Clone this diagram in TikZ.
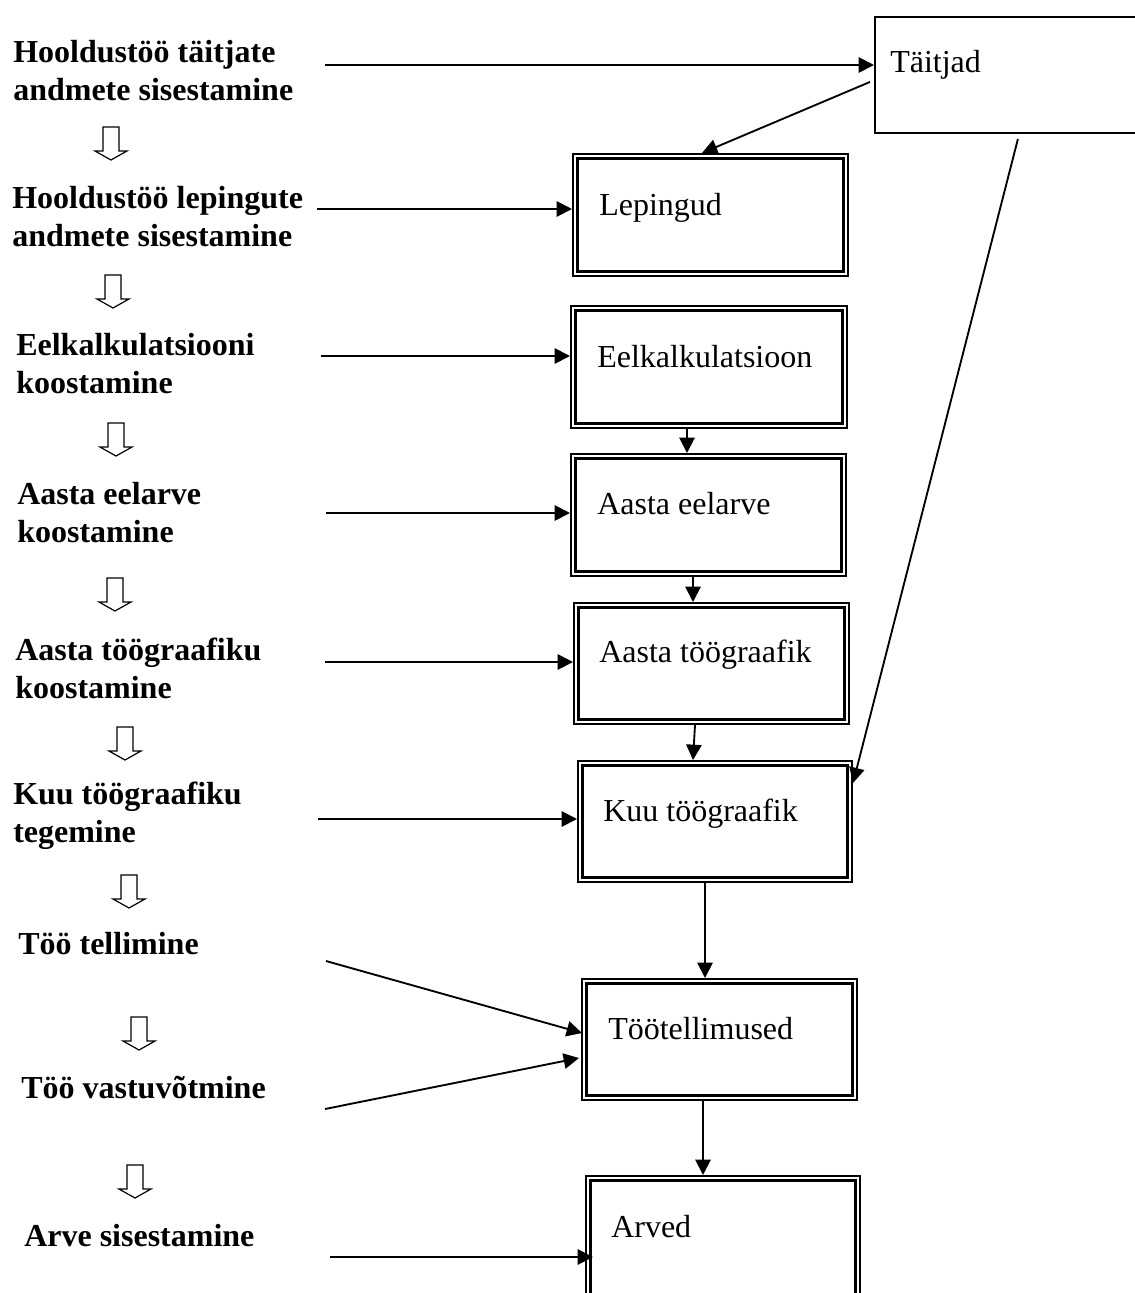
\documentclass[tikz,border=0pt]{standalone}
\usepackage{fontspec}
\setmainfont{Liberation Serif}
\usetikzlibrary{arrows.meta,calc}
\tikzset{
  obox/.style={draw, line width=1.5pt, inner sep=0pt, outer sep=0.75pt, anchor=north west},
  ibox/.style={line width=2.25pt},
  sbox/.style={draw, line width=1.4pt, inner sep=0pt, outer sep=0.7pt, anchor=north west},
  lbl/.style={font=\fontsize{24pt}{28.5pt}\selectfont\bfseries, align=left, anchor=base west, inner sep=0pt},
  btxt/.style={font=\fontsize{24pt}{28.5pt}\selectfont, anchor=base west, inner sep=0pt},
  arr/.style={line width=1.4pt, -{Triangle[length=11.5pt, width=11.5pt]}},
  darrow/.style={line width=0.9pt, line join=miter}
}
\begin{document}
\begin{tikzpicture}[x=0.75pt, y=-0.75pt]
\useasboundingbox (0,0) rectangle (1135,1293);

% boxes
\node[sbox, minimum width=199.5pt, minimum height=87pt] (ta) at (874,16) {};
\node[obox, minimum width=206.25pt, minimum height=91.5pt] (lep) at (572,153) {};
\node[obox, minimum width=207pt, minimum height=91.5pt] (ek) at (570,305) {};
\node[obox, minimum width=206.25pt, minimum height=91.5pt] (ae) at (570,453) {};
\node[obox, minimum width=206.25pt, minimum height=90.75pt] (at) at (573,602) {};
\node[obox, minimum width=205.5pt, minimum height=90.75pt] (kuu) at (577,760) {};
\node[obox, minimum width=206.25pt, minimum height=90.75pt] (tt) at (581,978) {};
\node[obox, minimum width=205.5pt, minimum height=97.5pt] (ar) at (585,1175) {};
\foreach \n in {lep,ek,ae,at,kuu,tt,ar}{
  \draw[ibox] ([shift={(5.5,5.5)}]\n.north west) rectangle ([shift={(-5.5,-5.5)}]\n.south east);
}

% box texts
\node[btxt] (taT) at (890,72) {Täitjad};
\node[btxt] (lepT) at (599,215) {Lepingud};
\node[btxt] (ekT) at (597,367) {Eelkalkulatsioon};
\node[btxt] (aeT) at (597,514) {Aasta eelarve};
\node[btxt] (atT) at (599,662) {Aasta töögraafik};
\node[btxt] (kuuT) at (603,821) {Kuu töögraafik};
\node[btxt] (ttT) at (608,1039) {Töötellimused};
\node[btxt] (arT) at (611,1237) {Arved};

% left labels (anchor = baseline of the last line)
\node[lbl] (l1) at (13,100) {Hooldustöö täitjate\\andmete sisestamine};
\node[lbl] (l2) at (12,246) {Hooldustöö lepingute\\andmete sisestamine};
\node[lbl] (l3) at (16,393) {Eelkalkulatsiooni\\koostamine};
\node[lbl] (l4) at (17,542) {Aasta eelarve\\koostamine};
\node[lbl] (l5) at (15,698) {Aasta töögraafiku\\koostamine};
\node[lbl] (l6) at (13,842) {Kuu töögraafiku\\tegemine};
\node[lbl] (l7) at (18,954) {Töö tellimine};
\node[lbl] (l8) at (21,1098) {Töö vastuvõtmine};
\node[lbl] (l9) at (24,1246) {Arve sisestamine};

% hollow down arrows between labels
\foreach \cx/\ty in {111/127, 113/275, 116/423, 115/578, 125/727, 129/875, 139/1017, 135/1165}{
  \draw[darrow] (\cx-8,\ty) -- (\cx+8,\ty) -- (\cx+8,\ty+24) -- (\cx+16,\ty+24)
     -- (\cx,\ty+33) -- (\cx-16,\ty+24) -- (\cx-8,\ty+24) -- cycle;
}

% start points of left connectors
\coordinate (s1) at (325,65);
\coordinate (s2) at (317,209);
\coordinate (s3) at (321,356);
\coordinate (s4) at (326,513);
\coordinate (s5) at (325,662);
\coordinate (s6) at (318,819);
\coordinate (s7) at (326,961);
\coordinate (s8) at (325,1109);
\coordinate (s9) at (330,1257);

\draw[arr] (s1) -- (s1 -| ta.west);
\draw[arr] (s2) -- (s2 -| lep.west);
\draw[arr] (s3) -- (s3 -| ek.west);
\draw[arr] (s4) -- (s4 -| ae.west);
\draw[arr] (s5) -- (s5 -| at.west);
\draw[arr] (s6) -- (s6 -| kuu.west);
\draw[arr] (s7) -- ([shift={(1,55)}]tt.north west);
\draw[arr] (s8) -- ([shift={(-2,80)}]tt.north west);
\draw[arr] (s9) -- ($(s9 -| ar.west)+(8,0)$);

% connectors from Täitjad
\draw[arr] ([shift={(-4,7)}]ta.west) -- ([shift={(-8.5,0)}]lep.north);
\draw[arr] ([shift={(10,5)}]ta.south) -- ([shift={(0,23)}]kuu.north east);

% vertical connectors between boxes
\draw[arr] ([shift={(117,0)}]ek.south west) -- ([shift={(117,0)}]ae.north west);
\draw[arr] ([shift={(123,0)}]ae.south west) -- ([shift={(120,0)}]at.north west);
\draw[arr] ([shift={(122,0)}]at.south west) -- ([shift={(116,0)}]kuu.north west);
\draw[arr] ([shift={(128,0)}]kuu.south west) -- ([shift={(124,0)}]tt.north west);
\draw[arr] ([shift={(122,0)}]tt.south west) -- ([shift={(118,0)}]ar.north west);
\end{tikzpicture}
\end{document}
